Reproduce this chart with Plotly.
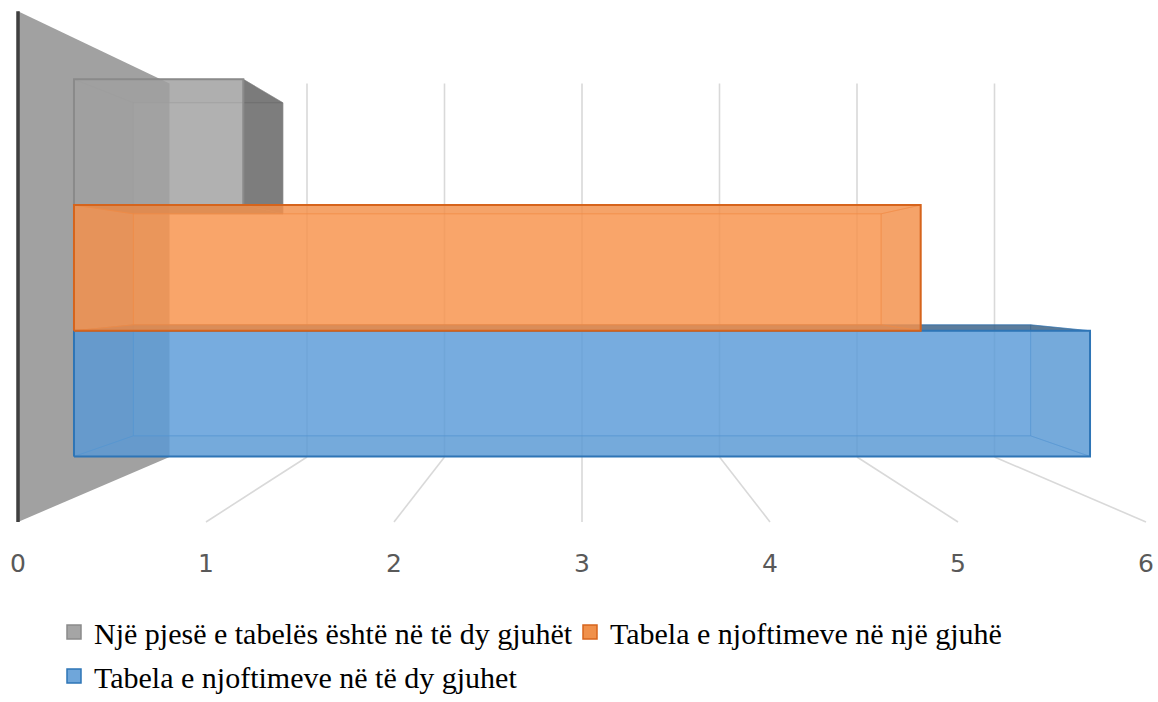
import plotly.graph_objects as go

# ---- data -------------------------------------------------------------
series_names = [
    "Një pjesë e tabelës është në të dy gjuhët",
    "Tabela e njoftimeve në një gjuhë",
    "Tabela e njoftimeve në të dy gjuhet",
]
series_values = [1, 5, 6]
series_fill = [(162, 162, 162), (248, 148, 78), (92, 156, 216)]
series_edge = [(138, 138, 138), (214, 100, 28), (46, 117, 182)]
series_swatch = ["#A5A5A5", "#F0904A", "#6FA6DA"]
axis_ticks = [0, 1, 2, 3, 4, 5, 6]
axis_min, axis_max = 0, 6

# ---- perspective view ---------------------------------------------------
W, H = 1158, 702
PX_FRONT = 188.0      # pixels per unit along the front floor edge
PX_BACK = 137.5       # pixels per unit along the back wall
X_MID = 582.0         # screen column of the axis midpoint
Y_HORIZON = 280.0     # eye level
DIST = PX_BACK / (PX_FRONT - PX_BACK)
FOCAL = PX_FRONT * DIST
FLOOR, TOP = -1.287, 1.43         # vertical extent of the plot box (axis units)
BAR_FRONT, BAR_BACK = 0.30, 0.70  # bar depth inside the box (0 = front, 1 = back)
GAP = 0.66                        # cluster gap relative to one bar thickness
V_MID = (axis_min + axis_max) / 2.0
LABEL_DROP = 44                   # tick labels sit below the front floor edge


def project(v, u, d):
    s = FOCAL / (DIST + d)
    return X_MID + (v - V_MID) * s, Y_HORIZON - u * s


def polygon(pts):
    xy = [project(*p) for p in pts]
    xy.append(xy[0])
    return [p[0] for p in xy], [p[1] for p in xy]


def rgba(c, a, k=1.0):
    return "rgba(%d,%d,%d,%.3f)" % (c[0] * k, c[1] * k, c[2] * k, a)


fig = go.Figure()

# side wall at the value origin
wx, wy = polygon([(axis_min, FLOOR, 0), (axis_min, TOP, 0), (axis_min, TOP, 1), (axis_min, FLOOR, 1)])
fig.add_trace(go.Scatter(x=wx, y=wy, mode="lines", fill="toself", fillcolor="rgb(161,161,161)",
                         line=dict(width=0, color="rgb(161,161,161)"), hoverinfo="skip", showlegend=False))
ex, ey = zip(project(axis_min, FLOOR, 0), project(axis_min, TOP, 0))
fig.add_trace(go.Scatter(x=list(ex), y=list(ey), mode="lines", line=dict(color="#3F3F3F", width=3.5),
                         hoverinfo="skip", showlegend=False))

# gridlines: back wall verticals and floor lines
gx, gy = [], []
for t in axis_ticks[1:]:
    for a, b in [((t, TOP, 1), (t, FLOOR, 1)), ((t, FLOOR, 1), (t, FLOOR, 0))]:
        pa, pb = project(*a), project(*b)
        gx += [pa[0], pb[0], None]
        gy += [pa[1], pb[1], None]
fig.add_trace(go.Scatter(x=gx, y=gy, mode="lines", line=dict(color="#D9D9D9", width=1.6),
                         hoverinfo="skip", showlegend=False))

# ---- 3-D bars (one category, clustered series, first series on top) ---
n = len(series_values)
bar_h = (TOP - FLOOR) / (n + GAP)
edge_gap = GAP * bar_h / 2


def draw_box(i):
    val = series_values[i]
    u1 = TOP - edge_gap - i * bar_h
    u0 = u1 - bar_h
    v0, v1 = axis_min, val
    d0, d1 = BAR_FRONT, BAR_BACK
    c, e = series_fill[i], series_edge[i]
    faces = [
        ("back", [(v0, u0, d1), (v1, u0, d1), (v1, u1, d1), (v0, u1, d1)], False, 1.0),
        ("left", [(v0, u0, d0), (v0, u1, d0), (v0, u1, d1), (v0, u0, d1)], v0 > V_MID, 0.62),
        ("right", [(v1, u0, d0), (v1, u1, d0), (v1, u1, d1), (v1, u0, d1)], v1 < V_MID, 0.6),
        ("bottom", [(v0, u0, d0), (v1, u0, d0), (v1, u0, d1), (v0, u0, d1)], u0 > 0, 0.62),
        ("top", [(v0, u1, d0), (v1, u1, d0), (v1, u1, d1), (v0, u1, d1)], u1 < 0, 0.62),
        ("front", [(v0, u0, d0), (v1, u0, d0), (v1, u1, d0), (v0, u1, d0)], True, 1.0),
    ]
    # hidden faces first, then the faces turned to the viewer
    ordered = [f for f in faces if not f[2]] + [f for f in faces if f[2]]
    for name, pts, facing, k in ordered:
        if name == "front":
            continue
        x, y = polygon(pts)
        fig.add_trace(go.Scatter(x=x, y=y, mode="lines", fill="toself",
                                 fillcolor=rgba(c, 0.8 if facing else 0.2, k),
                                 line=dict(width=1, color=rgba(e, 0.45)),
                                 hoverinfo="skip", showlegend=False))
    x, y = polygon(faces[-1][1])
    fig.add_trace(go.Scatter(x=x, y=y, mode="lines", fill="toself", fillcolor=rgba(c, 0.8),
                             line=dict(width=2, color=rgba(e, 1)),
                             hoverinfo="skip", showlegend=False))


for i in [0, 2, 1]:
    draw_box(i)

# value-axis labels along the front floor edge
lx, ly = [], []
for t in axis_ticks:
    px, py = project(t, FLOOR, 0)
    lx.append(px)
    ly.append(py + LABEL_DROP)
fig.add_trace(go.Scatter(x=lx, y=ly, mode="text", text=[str(t) for t in axis_ticks],
                         textposition="middle center",
                         textfont=dict(family="DejaVu Sans", size=25, color="#595959"),
                         hoverinfo="skip", showlegend=False))

# legend entries: first two share a row, the third wraps to a second row
legend_slots = ["legend", "legend", "legend2"]
for i, name in enumerate(series_names):
    fig.add_trace(go.Scatter(x=[None], y=[None], mode="markers", name=name, legendrank=i + 1,
                             legend=legend_slots[i],
                             marker=dict(symbol="square", size=14, color=series_swatch[i],
                                         line=dict(color=rgba(series_edge[i], 1), width=1.5))))

legend_style = dict(orientation="h", xanchor="left",
                    font=dict(family="Liberation Serif", size=30, color="#000000"),
                    itemclick=False, itemdoubleclick=False, bgcolor="rgba(0,0,0,0)")

fig.update_layout(
    width=W, height=H,
    margin=dict(l=0, r=0, t=0, b=0, autoexpand=False),
    paper_bgcolor="white", plot_bgcolor="white",
    xaxis=dict(range=[0, W], visible=False, fixedrange=True),
    yaxis=dict(range=[H, 0], visible=False, fixedrange=True),
    showlegend=True,
    legend=dict(x=54 / W, y=1 - 632 / H, yanchor="middle", entrywidth=471, entrywidthmode="pixels",
                **legend_style),
    legend2=dict(x=54 / W, y=0, yanchor="bottom", **legend_style),
)

fig.write_html("out.html")
